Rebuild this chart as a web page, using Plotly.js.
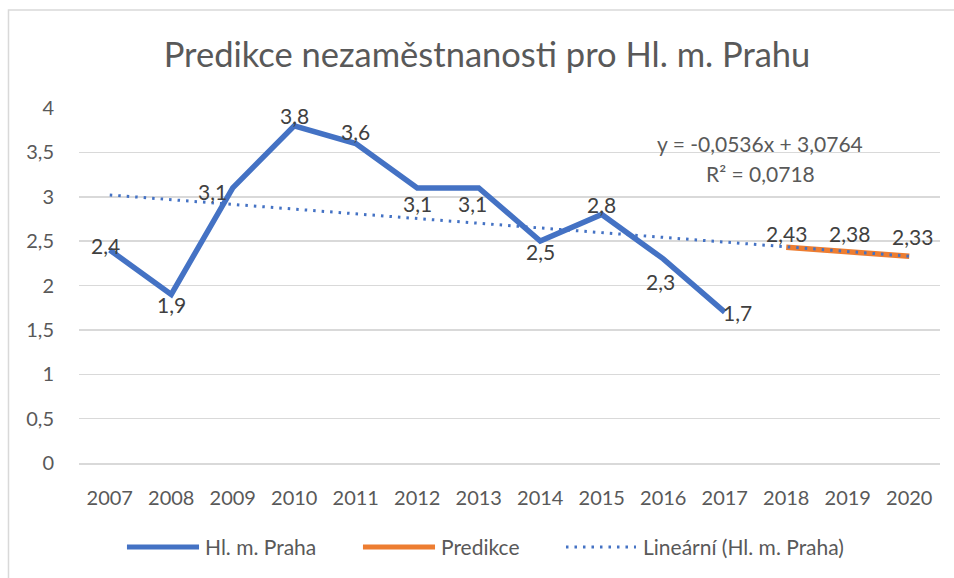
<!DOCTYPE html>
<html>
<head>
<meta charset="utf-8">
<script src="https://cdn.plot.ly/plotly-3.0.1.min.js"></script>
<style>
  html, body { margin: 0; padding: 0; background: #ffffff; }
  #chart { width: 954px; height: 578px; }
</style>
</head>
<body>
<div id="chart"></div>
<script>
// ---- data ----
const years = ['2007','2008','2009','2010','2011','2012','2013','2014','2015','2016','2017','2018','2019','2020'];
const prahaYears = ['2007','2008','2009','2010','2011','2012','2013','2014','2015','2016','2017'];
const prahaValues = [2.4, 1.9, 3.1, 3.8, 3.6, 3.1, 3.1, 2.5, 2.8, 2.3, 1.7];
const predikceYears = ['2018','2019','2020'];
const predikceValues = [2.43, 2.38, 2.33];
const trendYears = ['2007','2020'];
const trendValues = [3.02, 2.33];
const yTickValues = [0, 0.5, 1, 1.5, 2, 2.5, 3, 3.5, 4];
const yTickLabels = ['0','0,5','1','1,5','2','2,5','3','3,5','4'];
const seriesNames = ['Hl. m. Praha', 'Predikce', 'Lineární (Hl. m. Praha)'];
const equationText = 'y = -0,0536x + 3,0764';
const r2Text = 'R² = 0,0718';

// ---- label placement (style only) ----
const prahaShift = [[-4,5],[0,-10],[-20,-4],[0,10],[0,12],[0,-16],[-6,-16],[0,-10],[0,10],[-3,-23],[13,0]];
const predikceShift = [[0,14],[2,18],[3,20]];

const FONT = 'Lato, Carlito, Calibri, sans-serif';
const BLUE = '#4472C4', ORANGE = '#ED7D31';
const TREND_DASH = '2.5px,6px';
const fmt = v => String(v).replace('.', ',');
const catIndex = yr => years.indexOf(yr);

const annotations = [];
prahaYears.forEach((yr, i) => {
  annotations.push({x: catIndex(yr), y: prahaValues[i], xref: 'x', yref: 'y', text: fmt(prahaValues[i]), showarrow: false,
    xshift: prahaShift[i][0], yshift: prahaShift[i][1], font: {family: FONT, size: 21, color: '#404040'}});
});
predikceYears.forEach((yr, i) => {
  annotations.push({x: catIndex(yr), y: predikceValues[i], xref: 'x', yref: 'y', text: fmt(predikceValues[i]), showarrow: false,
    xshift: predikceShift[i][0], yshift: predikceShift[i][1], font: {family: FONT, size: 21, color: '#404040'}});
});
annotations.push({xref: 'paper', yref: 'paper', x: 0.791, y: 0.8986, text: equationText, showarrow: false,
  xanchor: 'center', yanchor: 'middle', font: {family: FONT, size: 21, color: '#595959'}});
annotations.push({xref: 'paper', yref: 'paper', x: 0.791, y: 0.8169, text: r2Text, showarrow: false,
  xanchor: 'center', yanchor: 'middle', font: {family: FONT, size: 21, color: '#595959'}});

// ---- legend (drawn as layout items) ----
const legendY = -0.2366;
const legendItems = [
  {x0: 0.0557, x1: 0.1394, tx: 0.1440, color: BLUE, width: 5, dash: 'solid'},
  {x0: 0.3298, x1: 0.4135, tx: 0.4181, color: ORANGE, width: 5, dash: 'solid'},
  {x0: 0.5656, x1: 0.6469, tx: 0.6528, color: BLUE, width: 3, dash: TREND_DASH}
];
const shapes = [{type: 'rect', xref: 'paper', yref: 'paper', x0: -0.0819, x1: 1.03, y0: -0.4, y1: 1.276,
  line: {color: '#d9d9d9', width: 1.5}, fillcolor: 'rgba(0,0,0,0)', layer: 'below'}];
legendItems.forEach((it, i) => {
  shapes.push({type: 'line', xref: 'paper', yref: 'paper', x0: it.x0, x1: it.x1, y0: legendY, y1: legendY,
    line: {color: it.color, width: it.width, dash: it.dash}});
  annotations.push({xref: 'paper', yref: 'paper', x: it.tx, y: legendY, xanchor: 'left', yanchor: 'middle',
    text: seriesNames[i], showarrow: false, font: {family: FONT, size: 21, color: '#595959'}});
});

const traces = [
  {x: prahaYears, y: prahaValues, name: seriesNames[0], type: 'scatter', mode: 'lines',
   line: {color: BLUE, width: 5.5}},
  {x: predikceYears, y: predikceValues, name: seriesNames[1], type: 'scatter', mode: 'lines',
   line: {color: ORANGE, width: 5.5}},
  {x: trendYears, y: trendValues, name: seriesNames[2], type: 'scatter', mode: 'lines',
   line: {color: BLUE, width: 3, dash: TREND_DASH}}
];

const layout = {
  width: 954, height: 578,
  margin: {l: 79, r: 14, t: 108, b: 115},
  paper_bgcolor: '#ffffff', plot_bgcolor: '#ffffff',
  font: {family: FONT, color: '#595959', size: 20},
  title: {text: 'Predikce nezaměstnanosti pro Hl. m. Prahu', font: {family: FONT, size: 34.5, color: '#595959'},
    x: 0.5105, xanchor: 'center', xref: 'container', y: 0.905, yanchor: 'middle', yref: 'container'},
  xaxis: {type: 'category', categoryorder: 'array', categoryarray: years, tickvals: years,
    range: [-0.5, 13.5], showgrid: false, zeroline: false, showline: true, linecolor: '#d9d9d9', linewidth: 1.5,
    ticks: 'outside', ticklen: 16, tickcolor: 'rgba(0,0,0,0)', tickfont: {family: FONT, size: 20, color: '#595959'}},
  yaxis: {range: [0, 4], tickvals: yTickValues, ticktext: yTickLabels, showgrid: true, gridcolor: '#d9d9d9',
    gridwidth: 1.5, zeroline: false, showline: false, ticks: 'outside', ticklen: 20, tickcolor: 'rgba(0,0,0,0)',
    tickfont: {family: FONT, size: 20, color: '#595959'}},
  showlegend: false,
  annotations: annotations,
  shapes: shapes
};

Plotly.newPlot('chart', traces, layout, {staticPlot: true, displayModeBar: false});
</script>
</body>
</html>
